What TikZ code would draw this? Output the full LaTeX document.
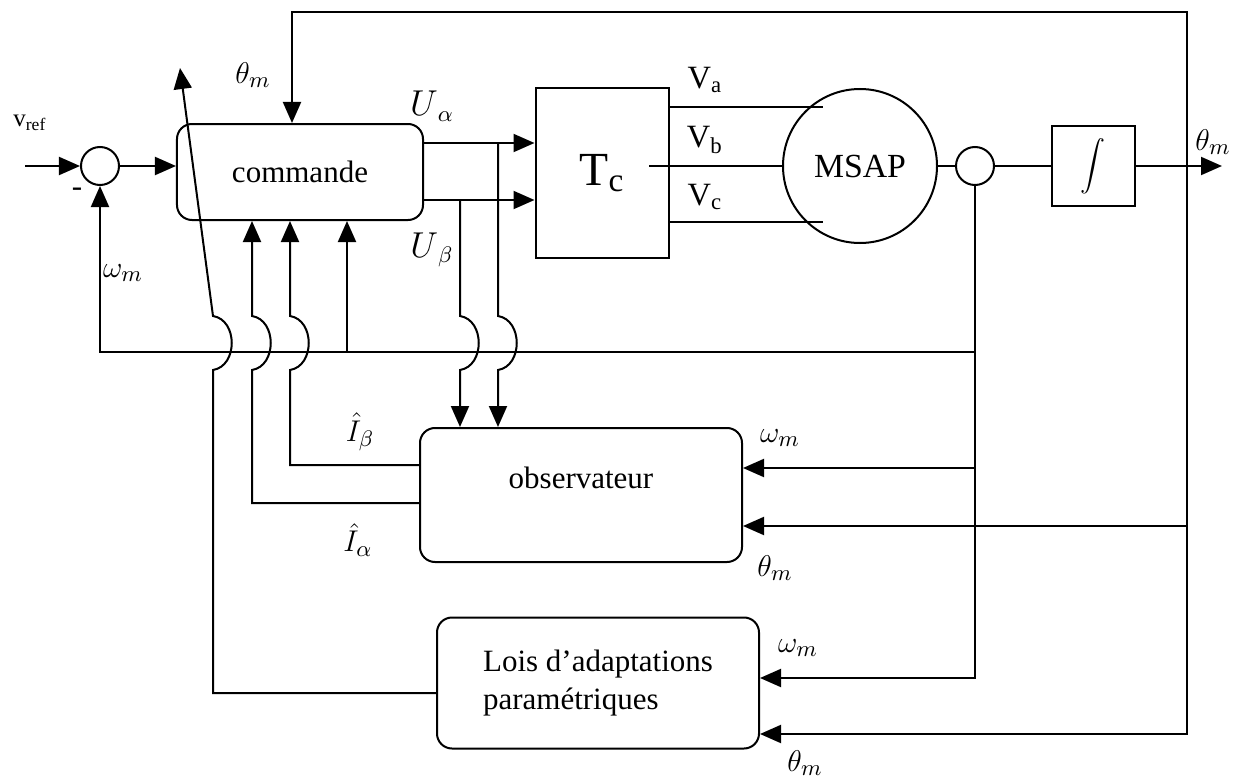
\documentclass[tikz,border=0pt]{standalone}
\usepackage{fontspec}
\setmainfont{Liberation Serif}
\usetikzlibrary{arrows.meta}

\tikzset{
  bloc/.style={draw, rounded corners=6pt, inner sep=0pt},
  boite/.style={draw, inner sep=0pt},
  somme/.style={draw, circle, minimum size=15.2pt, inner sep=0pt},
  lbl/.style={inner sep=0pt},
}

\begin{document}
\begin{tikzpicture}[x=0.4pt, y=-0.4pt, line width=0.8pt,
  >={Triangle[length=8.4pt,width=7.2pt]}, font=\fontsize{12.4}{14}\selectfont]
\useasboundingbox (0,0) rectangle (1235,780);

% 方块
\node[somme] (s1) at (100,166) {};
\node[bloc, minimum width=98.4pt, minimum height=38.4pt] (cmd) at (300,172) {commande};
\node[boite, minimum width=53.2pt, minimum height=68pt, font=\fontsize{19}{20}\selectfont] (tc) at (602,173) {T\textsubscript{c}};
\node[draw, circle, minimum size=61.6pt, inner sep=0pt, font=\fontsize{13.5}{15}\selectfont] (msap) at (860,166) {MSAP};
\node[somme] (s2) at (975,166) {};
\node[boite, minimum width=33.2pt, minimum height=32pt, font=\fontsize{9}{10}\selectfont] (int) at (1093,166) {$\displaystyle\int$};
\node[bloc, minimum width=128.8pt, minimum height=53.6pt] (obs) at (581,495) {};
\node (obstxt) at (581,478) {observateur};
\node[bloc, minimum width=128.8pt, minimum height=52.4pt, align=left,
  font=\fontsize{12.4}{15}\selectfont] (lois) at (598,683) {Lois d’adaptations\\paramétriques};

% 输入
\coordinate (vin) at (25,166);
\draw[->] (vin) -- (s1);
\draw[->] (s1) -- (s1 -| cmd.west);

% theta 回路
\coordinate (thtap) at (1187,166);
\coordinate (thtop) at (1187,12);
\coordinate (thcm) at (292,12);
\draw[->] (thtap) -- (thtop) -- (thcm) -- (thcm |- cmd.north);
\coordinate (thlois) at (1187,734);
\draw[->] (thtap) -- (thlois) -- (thlois -| lois.east);
\coordinate (thobs) at (1187,526);
\draw[->] (thobs) -- (thobs -| obs.east);

% 输出
\coordinate (thout) at (1222,166);
\draw (msap) -- (s2);
\draw (s2) -- (int);
\draw[->] (int) -- (thout);

% omega 回路
\coordinate (wlois) at (975,678);
\draw[->] (s2) -- (wlois) -- (wlois -| lois.east);
\coordinate (wobs) at (975,468);
\draw[->] (wobs) -- (wobs -| obs.east);
\coordinate (wr) at (975,352);
\coordinate (wl) at (100,352);
\draw[->] (wr) -- (wl) -- (s1);
\coordinate (wcmd) at (347,352);
\draw[->] (wcmd) -- (wcmd |- cmd.south);

% U alpha, U beta
\draw[->] (cmd.east |- 0,143) -- (tc.west |- 0,143);
\draw[->] (cmd.east |- 0,200) -- (tc.west |- 0,200);
\coordinate (uat) at (498,143);
\draw[->] (uat) -- (498,316) .. controls +(25,4) and +(25,-4) .. (498,370) -- (uat |- obs.north);
\coordinate (ubt) at (460,200);
\draw[->] (ubt) -- (460,316) .. controls +(25,4) and +(25,-4) .. (460,370) -- (ubt |- obs.north);

% 观测器输出
\coordinate (ibt) at (290,465);
\draw[->] (obs.west |- ibt) -- (ibt) -- (290,370) .. controls +(25,-4) and +(25,4) .. (290,316) -- (ibt |- cmd.south);
\coordinate (iat) at (252,503);
\draw[->] (obs.west |- iat) -- (iat) -- (252,370) .. controls +(25,-4) and +(25,4) .. (252,316) -- (iat |- cmd.south);

% 自适应律输出
\coordinate (lt) at (213,693);
\coordinate (ltip) at (180,68);
\draw[->] (lois.west |- lt) -- (lt) -- (213,370) .. controls +(25,-4) and +(25,4) .. (213,316) -- (ltip);

% 电压
\coordinate (vae) at (823,107);
\draw (tc.east |- vae) -- (vae);
\coordinate (vbs) at (649,166);
\draw (vbs) -- (msap);
\coordinate (vce) at (823,222);
\draw (tc.east |- vce) -- (vce);

% 标签
\node[lbl, font=\fontsize{10}{11}\selectfont] (lvref) at (30,123) {v\textsubscript{ref}};
\node[lbl] (lmoins) at (77,192) {-};
\node[lbl] (lthc) at (253,75) {$\theta_m$};
\node[lbl] (lwc) at (123,273) {$\omega_m$};
\node[lbl, font=\fontsize{13.5}{15}\selectfont] (lua) at (432,106) {$U_{\,\alpha}$};
\node[lbl, font=\fontsize{13.5}{15}\selectfont] (lub) at (432,250) {$U_{\,\beta}$};
\node[lbl, font=\fontsize{13}{14}\selectfont] (lva) at (705,80) {V\textsubscript{a}};
\node[lbl, font=\fontsize{13}{14}\selectfont] (lvb) at (705,140) {V\textsubscript{b}};
\node[lbl, font=\fontsize{13}{14}\selectfont] (lvc) at (705,197) {V\textsubscript{c}};
\node[lbl] (lthout) at (1213,142) {$\theta_m$};
\node[lbl] (libeta) at (360,432) {$\hat{I}_{\beta}$};
\node[lbl] (lialpha) at (358,540) {$\hat{I}_{\alpha}$};
\node[lbl] (lwobs) at (780,438) {$\omega_m$};
\node[lbl] (lthobs) at (775,568) {$\theta_m$};
\node[lbl] (lwlois) at (798,648) {$\omega_m$};
\node[lbl] (lthlois) at (805,763) {$\theta_m$};
\end{tikzpicture}
\end{document}
